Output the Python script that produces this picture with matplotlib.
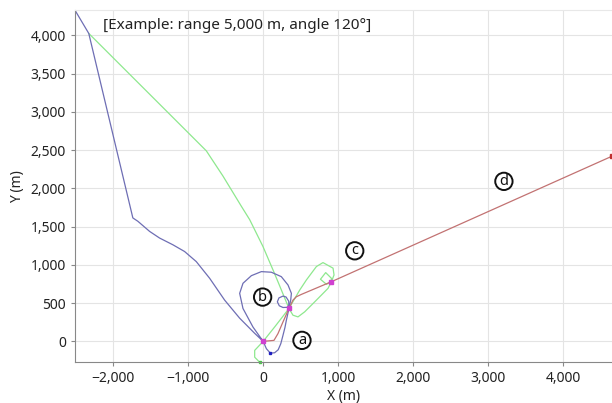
import numpy as np
import matplotlib
matplotlib.use("Agg")
import matplotlib.pyplot as plt
from matplotlib.ticker import FuncFormatter

plt.rcParams['font.family'] = ['Noto Sans', 'Noto Sans CJK KR', 'DejaVu Sans']

# --- trajectories (m) ---
blue_x = [-2507, -2323, -1736, -1669, -1513, -1380, -1203, -1047, -891, -713, -513, -313, -113, 0,
          43, 96, 153, 200, 235, 264, 290, 309, 344,
          340, 305, 264, 210, 189, 215, 264, 320, 355, 367,
          376, 331, 242, 109, -24, -157, -269, -313, -269, -136, 0]
blue_y = [4330, 4026, 1614, 1570, 1438, 1351, 1263, 1175, 1043, 825, 539, 303, 105, 0,
          -96, -154, -149, -110, -30, 79, 180, 276, 430,
          526, 580, 592, 568, 517, 465, 443, 445, 480, 540,
          628, 737, 846, 904, 912, 859, 759, 628, 430, 188, 0]

green_x = [-2323, -757, -536, -291, -180, -3, 131, 197, 344,
           397, 464, 553, 687, 864, 909,
           909, 833, 763, 843, 909, 944, 931, 797, 709, 576, 487,
           344, 153, 0, -113, -113, -47]
green_y = [4026, 2491, 2162, 1767, 1592, 1241, 934, 780, 430,
           342, 320, 386, 517, 693, 780,
           825, 899, 812, 746, 780, 868, 957, 1030, 978, 803, 671,
           430, 188, 0, -118, -207, -272]

red_x = [0, 144, 197, 264, 344, 397, 442, 509, 909, 4647]
red_y = [0, 13, 101, 254, 430, 539, 583, 614, 780, 2421]

wp_x = [0, 344, 909]
wp_y = [0, 430, 780]

labels = ['a', 'b', 'c', 'd']
label_x = [517, -7, 1220, 3207]
label_y = [13, 579, 1184, 2092]

fig = plt.figure(figsize=(6.12, 4.03), dpi=100)
ax = fig.add_axes([0.1225, 0.1017, 0.8775, 0.873])

ax.plot(green_x, green_y, color='#8ee88e', lw=0.9)
ax.plot(blue_x, blue_y, color='#6e6eb4', lw=0.9)
ax.plot(red_x, red_y, color='#c27272', lw=0.9)
ax.plot(wp_x, wp_y, 's', color='#d040d0', ms=3)
ax.plot([96], [-154], 's', color='#2020c0', ms=2)
ax.plot([-47], [-272], 's', color='#40d040', ms=2, clip_on=False)
ax.plot([4647], [2421], 's', color='#c03030', ms=2.5, clip_on=False)

# circled letters
for t, x, y in zip(labels, label_x, label_y):
    ax.text(x, y, t, fontsize=10.5, ha='center', va='center', color='#111111', fontweight='semibold',
            bbox=dict(boxstyle='circle,pad=0.08', fc='white', ec='#111111', lw=1.4))

ax.text(0.052, 0.957, '[Example: range 5,000 m, angle 120°]', transform=ax.transAxes,
        fontsize=11, va='center', ha='left', color='#222222')

ax.set_xlim(-2507, 4647)
ax.set_ylim(-270, 4330)
ax.set_xticks([-2000, -1000, 0, 1000, 2000, 3000, 4000])
ax.set_yticks(np.arange(0, 4001, 500))
fmt = FuncFormatter(lambda v, p: '{:,}'.format(int(v)).replace('-', '\u2212'))
ax.xaxis.set_major_formatter(fmt)
ax.yaxis.set_major_formatter(fmt)
ax.grid(True, color='#e4e4e4', lw=0.8)
ax.set_axisbelow(True)
ax.tick_params(labelsize=10, length=3, color='#888888', labelcolor='#222222')
ax.spines['right'].set_visible(False)
ax.spines['top'].set_color('#e8e8e8')
ax.spines['left'].set_color('#888888')
ax.spines['bottom'].set_color('#888888')
ax.set_xlabel('X (m)', fontsize=10, color='#222222', labelpad=2)
ax.set_ylabel('Y (m)', fontsize=10, color='#222222', labelpad=4)

fig.savefig('out.png', dpi=100)
